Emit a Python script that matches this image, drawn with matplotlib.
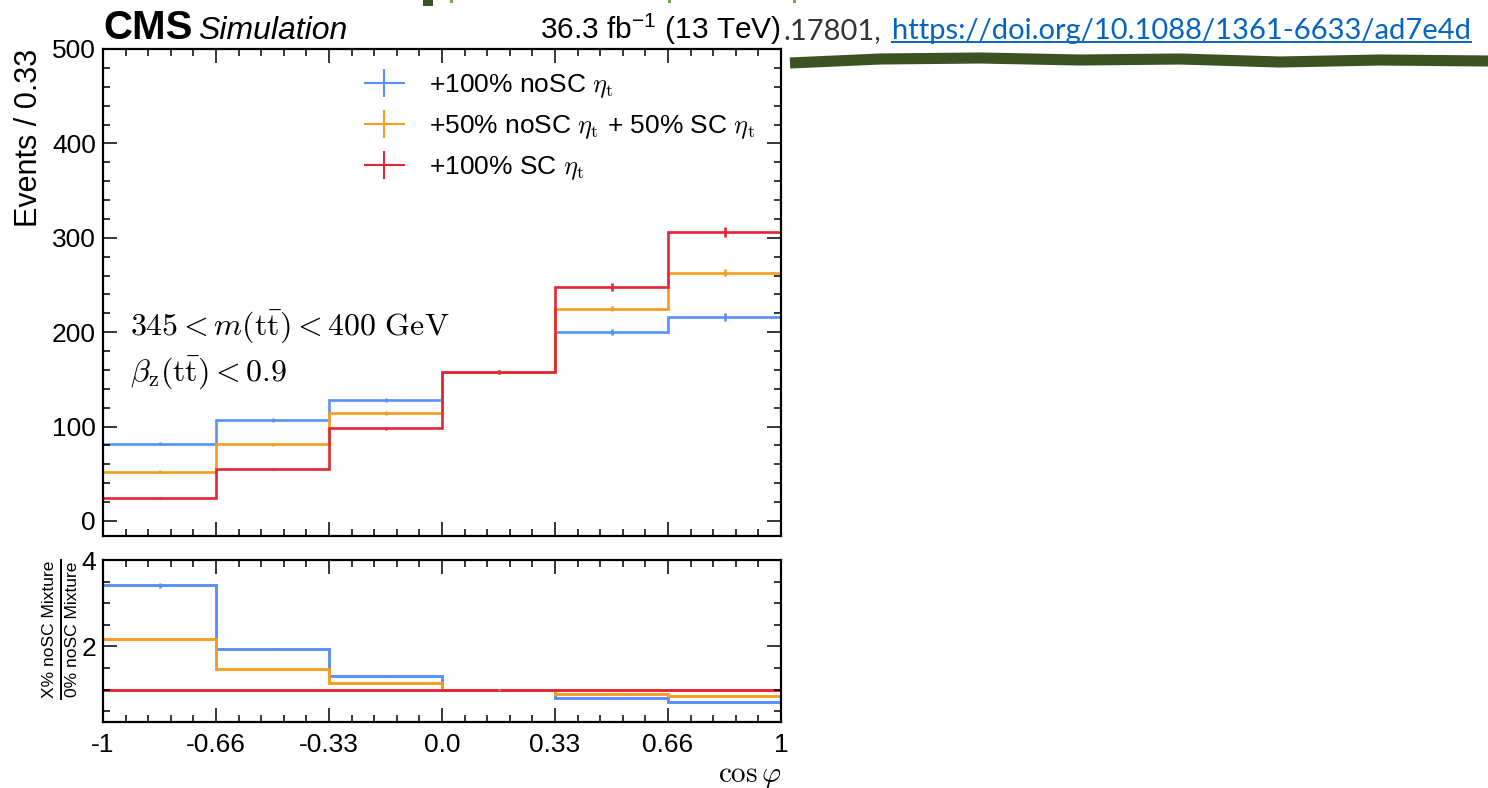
import numpy as np
import matplotlib
matplotlib.use("Agg")
import matplotlib.pyplot as plt
from matplotlib.lines import Line2D
from matplotlib.patches import Rectangle
from matplotlib.ticker import FixedLocator, MultipleLocator

plt.rcParams['font.family'] = ['Liberation Sans', 'DejaVu Sans']
plt.rcParams['mathtext.fontset'] = 'cm'
plt.rcParams['mathtext.rm'] = 'Liberation Sans'

# cos(phi) binning, 6 bins of width 1/3
edges = np.linspace(-1, 1, 7)
edge_labels = ['-1', '-0.66', '-0.33', '0.0', '0.33', '0.66', '1']
centers = 0.5 * (edges[1:] + edges[:-1])

# events per bin for each eta_t mixture
labels = [r'+100% noSC $\eta_{\mathrm{t}}$',
          r'+50% noSC $\eta_{\mathrm{t}}$ + 50% SC $\eta_{\mathrm{t}}$',
          r'+100% SC $\eta_{\mathrm{t}}$']
noSC = [82, 107, 128, 158, 200, 216]
mix = [52, 81, 114, 158, 225, 263]
SC = [24, 55, 98, 158, 248, 306]
noSC_err = [2, 2, 2, 2, 3, 4]
mix_err = [1.5, 2, 2, 2, 3, 4]
SC_err = [1, 1.5, 2, 2, 4, 5]
# ratio errors (MC stat.)
noSC_ratio_err = [0.06, 0.02, 0.01, 0.01, 0.01, 0.01]
mix_ratio_err = [0.03, 0.01, 0.01, 0.01, 0.01, 0.01]
SC_ratio_err = [0.0, 0.0, 0.0, 0.0, 0.0, 0.0]

colors = ['#5790fc', '#f89c20', '#e42536']
series = [noSC, mix, SC]
errs = [noSC_err, mix_err, SC_err]
ratio_errs = [noSC_ratio_err, mix_ratio_err, SC_ratio_err]

W, H = 1488, 788
fig = plt.figure(figsize=(W / 100, H / 100), dpi=100)
ax = fig.add_axes([103 / W, 1 - 536 / H, 678 / W, 487 / H])
rax = fig.add_axes([103 / W, 1 - 722 / H, 678 / W, 162 / H])

handles = []
for vals, err, c, lab in zip(series, errs, colors, labels):
    ax.stairs(vals, edges, baseline=None, color=c, lw=1.9)
    ax.errorbar(centers, vals, yerr=err, fmt='none', ecolor=c, elinewidth=1.9)
    handles.append(Line2D([], [], color=c, lw=1.5, marker='|', markersize=20,
                          mew=1.5, label=lab))

ref = np.array(SC, dtype=float)
for vals, rerr, c in zip(series, ratio_errs, colors):
    ratio = np.array(vals) / ref
    rax.stairs(ratio, edges, baseline=None, color=c, lw=2.1)
    rax.errorbar(centers, ratio, yerr=rerr, fmt='none', ecolor=c, elinewidth=1.9)

for a in (ax, rax):
    a.set_xlim(-1, 1)
    a.xaxis.set_major_locator(FixedLocator(edges))
    a.xaxis.set_minor_locator(MultipleLocator(1 / 15))
    a.tick_params(which='both', direction='in', top=True, right=True,
                  labelsize=19, width=1.1)
    a.tick_params(which='major', length=10)
    a.tick_params(which='minor', length=5)
    for s in a.spines.values():
        s.set_linewidth(1.6)

ax.set_ylim(-16, 500)
ax.yaxis.set_major_locator(MultipleLocator(100))
ax.yaxis.set_minor_locator(MultipleLocator(20))
ax.tick_params(axis='x', labelbottom=False)
ax.tick_params(axis='y', pad=5)
ax.set_ylabel('Events / 0.33', fontsize=22, loc='top', labelpad=6)

rax.set_ylim(0.25, 4)
rax.yaxis.set_major_locator(FixedLocator([2, 4]))
rax.yaxis.set_minor_locator(MultipleLocator(0.5))
rax.set_xticklabels(edge_labels)
rax.tick_params(axis='x', pad=8)
rax.tick_params(axis='y', pad=5)

# ratio axis title drawn as a stacked fraction
frac_y = 0.57
rax.text(-0.079, frac_y, 'X% noSC Mixture', transform=rax.transAxes,
         rotation=90, fontsize=12.5, ha='center', va='center')
rax.text(-0.045, frac_y, '0% noSC Mixture', transform=rax.transAxes,
         rotation=90, fontsize=12.5, ha='center', va='center')
rax.add_artist(Line2D([-0.0615, -0.0615], [frac_y - 0.43, frac_y + 0.43],
                      transform=rax.transAxes, color='black', lw=1.4,
                      clip_on=False))

rax.text(1.0, -0.37, r'$\cos\varphi$', transform=rax.transAxes,
         fontsize=21, ha='right', va='baseline')

ax.legend(handles=handles, loc='upper left', bbox_to_anchor=(0.386, 0.952),
          frameon=False, fontsize=19, handlelength=1.5, numpoints=1,
          labelspacing=0.5, handletextpad=0.95, borderpad=0, borderaxespad=0)

ax.text(0.04, 0.43, r'$345 < m(\mathrm{t\bar{t}}) < 400\ \mathrm{GeV}$',
        transform=ax.transAxes, fontsize=23, ha='left', va='center')
ax.text(0.04, 0.335, r'$\beta_{\mathrm{z}}(\mathrm{t\bar{t}}) < 0.9$',
        transform=ax.transAxes, fontsize=23, ha='left', va='center')

# experiment labels
ax.text(0.0, 1.021, 'CMS', transform=ax.transAxes, fontsize=29,
        fontweight='bold', ha='left', va='baseline')
ax.text(0.14, 1.021, 'Simulation', transform=ax.transAxes, fontsize=23,
        fontstyle='italic', ha='left', va='baseline')
ax.text(1.0, 1.021, r'36.3 fb$^{-1}$ (13 TeV)', transform=ax.transAxes,
        fontsize=21.5, ha='right', va='baseline', math_fontfamily='custom')

# slide reference text and link
fig.text(783 / W, 1 - 31 / H, '.17801,', fontsize=21, color='#333333',
         ha='left', va='center', family='Lato')
link = fig.text(892 / W, 1 - 31 / H, 'https://doi.org/10.1088/1361-6633/ad7e4d',
                fontsize=21, color='#0563c1', ha='left', va='center',
                family='Lato')
fig.canvas.draw()
bb = link.get_window_extent()
fig.add_artist(Line2D([bb.x0 / W, bb.x1 / W], [(bb.y0 + 2) / H, (bb.y0 + 2) / H],
                      transform=fig.transFigure, color='#0563c1', lw=1.4))

# hand-drawn green stroke
wave_x = [790, 880, 980, 1080, 1180, 1280, 1380, 1488]
wave_y = [63, 59, 58, 60, 59, 62, 60, 61]
fig.add_artist(Line2D([x / W for x in wave_x], [1 - y / H for y in wave_y],
                      transform=fig.transFigure, color='#3b5323', lw=8,
                      solid_capstyle='butt'))

# clipped heading glyphs at the top edge
fig.add_artist(Rectangle((423 / W, 1 - 6 / H), 10 / W, 6 / H,
                         transform=fig.transFigure, color='#3b5323', lw=0))
for gx in [450, 668, 793]:
    fig.add_artist(Rectangle((gx / W, 1 - 3 / H), 3 / W, 3 / H,
                             transform=fig.transFigure, color='#70ad47', lw=0))

fig.savefig('out.png', dpi=100)
